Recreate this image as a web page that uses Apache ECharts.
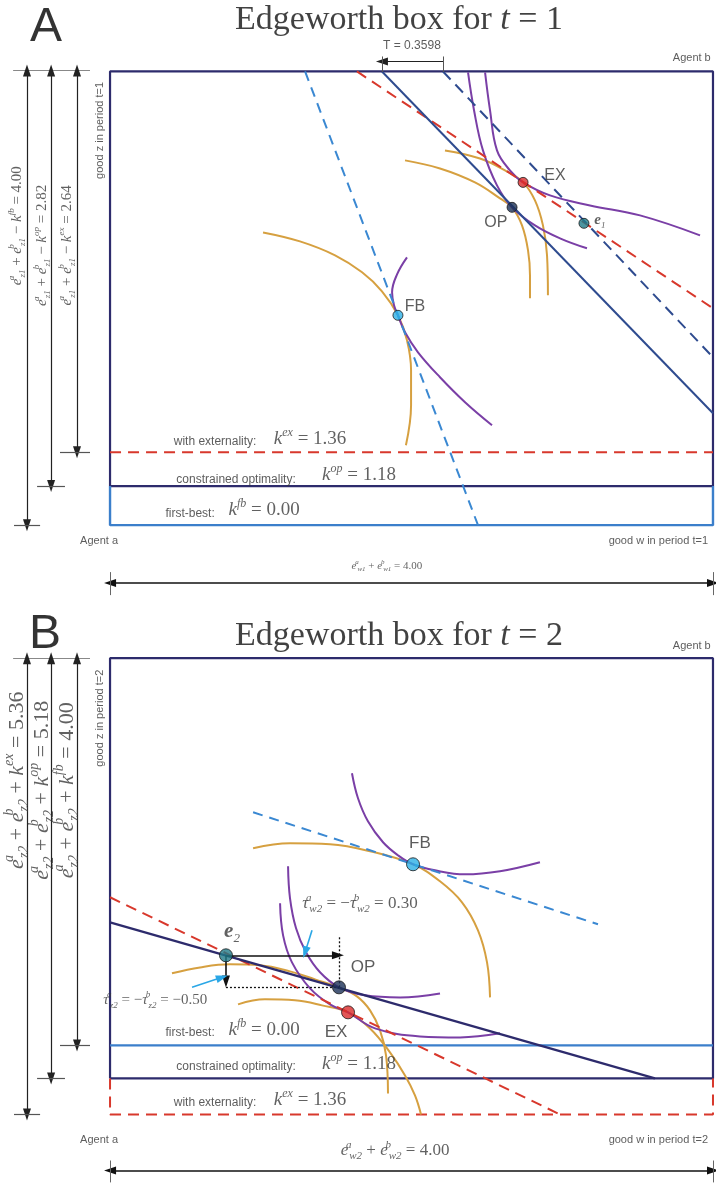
<!DOCTYPE html>
<html><head><meta charset="utf-8">
<script src="https://cdn.jsdelivr.net/npm/echarts@6/dist/echarts.min.js"></script>
<style>html,body{margin:0;padding:0;background:#fff}#c{width:716px;height:1184px}</style>
</head><body><div id="c"></div>
<script>
// ===================== DATA (w = good w, z = good z) =====================
// ---- Panel A (t = 1) ----
const aWmax = 4, aZtop = 4;
const aKop = 0.344, aKex = 0.643;            // heights of k^op / k^ex lines
const aBudgetOP = [[1.804, 4], [4, 0.987]];   // solid budget line through OP
const aBudgetE1 = [[2.209, 4], [4, 1.480]];   // dashed parallel through e1
const aBudgetEX = [[1.638, 4], [4, 1.912]];   // red dashed through EX
const aPriceFB  = [[1.294, 4], [2.441, 0]];   // blue dashed through FB
const aPtFB = [1.910, 1.850], aPtOP = [2.667, 2.802], aPtEX = [2.740, 3.022], aPtE1 = [3.144, 2.661];
const aOrangeFB = [[1.015,2.581],[1.260,2.502],[1.493,2.379],[1.672,2.229],[1.804,2.062],[1.910,1.850],[1.970,1.630],[1.997,1.366],[1.997,1.057],[1.963,0.705]];
const aPurpleFB = [[1.970,2.361],[1.904,2.211],[1.871,2.053],[1.884,1.938],[1.910,1.850],[1.957,1.700],[2.043,1.524],[2.189,1.304],[2.355,1.084],[2.534,0.881]];
const aOrangeOP = [[1.957,3.216],[2.189,3.145],[2.421,3.022],[2.587,2.881],[2.667,2.802],[2.733,2.643],[2.773,2.423],[2.786,2.203],[2.786,2.000]];
const aOrangeEX = [[2.222,3.304],[2.454,3.233],[2.620,3.128],[2.740,3.022],[2.819,2.863],[2.872,2.643],[2.899,2.379],[2.905,2.026]];
const aPurpleOP = [[2.375,3.991],[2.415,3.656],[2.474,3.304],[2.567,2.996],[2.667,2.802],[2.819,2.643],[2.985,2.529],[3.164,2.441]];
const aPurpleEX = [[2.488,3.991],[2.521,3.656],[2.567,3.304],[2.653,3.128],[2.740,3.022],[2.919,2.907],[3.184,2.819],[3.516,2.731],[3.914,2.555]];
const aTaxT = [1.804, 2.209];                 // T = 0.3598 bracket (w positions)

// ---- Panel B (t = 2) ----
const bWmax = 4, bZtop = 4;
const bKfb = 0.605, bKop = 0.316, bKex = 0;
const bBudgetOP = [[0, 1.684], [3.615, 0.316]];
const bBudgetEX = [[0, 1.904], [2.985, 0]];
const bPriceFB  = [[0.949, 2.649], [3.237, 1.667]];
const bPtFB = [2.010, 2.193], bPtOP = [1.519, 1.114], bPtEX = [1.579, 0.895], bPtE2 = [0.769, 1.395];
const bOrangeFB = [[0.949,2.333],[1.194,2.377],[1.459,2.368],[1.725,2.307],[2.010,2.193],[2.189,2.044],[2.335,1.860],[2.441,1.614],[2.501,1.333],[2.521,1.026]];
const bPurpleFB = [[1.605,2.991],[1.645,2.772],[1.711,2.570],[1.811,2.386],[1.910,2.272],[2.010,2.193],[2.156,2.140],[2.355,2.105],[2.587,2.132],[2.852,2.211]];
const bOrangeOP = [[0.411,1.237],[0.597,1.289],[0.796,1.316],[0.995,1.307],[1.194,1.254],[1.360,1.184],[1.519,1.114],[1.638,1.035],[1.725,0.912],[1.791,0.737],[1.831,0.518],[1.844,0.184]];
const bOrangeEX = [[0.849,0.965],[1.028,1.009],[1.227,1.000],[1.406,0.956],[1.579,0.895],[1.725,0.754],[1.857,0.544],[1.957,0.342],[2.023,0.167],[2.063,0]];
const bPurpleOP = [[1.181,2.175],[1.194,1.895],[1.234,1.632],[1.300,1.421],[1.393,1.246],[1.519,1.114],[1.692,1.044],[1.924,1.026],[2.189,1.061]];
const bPurpleEX = [[1.128,1.851],[1.148,1.570],[1.207,1.333],[1.327,1.105],[1.459,0.965],[1.579,0.895],[1.758,0.754],[2.056,0.684],[2.322,0.675],[2.587,0.711]];
const bTauW = [bPtE2, [1.512, 1.395]];        // transfer arrows
const bTauZ = [bPtE2, [0.769, 1.165]];

// ===================== STYLE =====================
const SERIF = 'Liberation Serif', SANS = 'Liberation Sans';
const NAVY = '#2d2b6c', BLUE = '#3b7fcb', RED = '#d8382c', BUDGET = '#2e4b8f';
const ORANGE = '#d6a040', PURPLE = '#7a3fa6', TXT = '#3a3a3a';

function poly(g, pts, color, width, type, smooth, z) {
  return {type:'line', xAxisIndex:g, yAxisIndex:g, data:pts, symbol:'none', smooth:smooth||false,
    clip:false, silent:true, z:z||2, lineStyle:{color:color, width:width, type:type||'solid'}};
}
function seg(p, q, color, width, endSym, startSym, type) {
  return [{coord:p, symbol:startSym||'none', symbolSize:[8,12], lineStyle:{color:color, width:width, type:type||'solid'}},
          {coord:q, symbol:endSym||'none', symbolSize:[8,12]}];
}
function mr(s, c) {
  c = c || TXT; const m = Math.round(s*0.62), lh = Math.round(s*1.3);
  return {
    i:{fontFamily:SERIF,fontStyle:'italic',fontSize:s,color:c,lineHeight:lh},
    n:{fontFamily:SERIF,fontSize:s,color:c,lineHeight:lh},
    b:{fontFamily:SERIF,fontStyle:'italic',fontWeight:'bold',fontSize:s,color:c,lineHeight:lh},
    p:{fontFamily:SERIF,fontStyle:'italic',fontSize:m,color:c,verticalAlign:'top',lineHeight:m},
    q:{fontFamily:SERIF,fontStyle:'italic',fontSize:m,color:c,verticalAlign:'top',lineHeight:m,width:1},
    d:{fontFamily:SERIF,fontStyle:'italic',fontSize:m,color:c,verticalAlign:'bottom',lineHeight:m}
  };
}
function T(w, z, fmt, opt) {
  return {value:[w, z], label:Object.assign({show:true, position:'inside', formatter:fmt, color:TXT}, opt||{})};
}
function sans(s, extra) { return Object.assign({fontFamily:SANS, fontSize:s, color:'#333'}, extra||{}); }

function pts(g, list) {
  return {type:'scatter', xAxisIndex:g, yAxisIndex:g, clip:false, silent:true, z:10,
    data: list.map(p => ({value:p[0], symbolSize:p[1], itemStyle:{color:p[2], borderColor:'#1a1a1a', borderWidth:1}}))};
}
function texts(g, items) {
  return {type:'scatter', xAxisIndex:g, yAxisIndex:g, clip:false, silent:true, z:12, symbolSize:1,
    itemStyle:{color:'rgba(0,0,0,0)'}, data:items};
}

// dimension arrows on the left / bottom
const xArr = [-0.551, -0.391, -0.219];

const series = [];
// ---------- Panel A ----------
series.push(Object.assign(poly(0, [[0,aKop],[0,aZtop],[aWmax,aZtop],[aWmax,aKop],[0,aKop]], NAVY, 2.2), {
  markLine:{silent:true, animation:false, label:{show:false}, symbol:'none', data:[
    seg([aTaxT[1], 4.088], [aTaxT[0], 4.088], '#222', 1.2, 'triangle'),
    seg([aTaxT[0], 4.132], [aTaxT[0], 3.995], '#555', 1),
    seg([aTaxT[1], 4.132], [aTaxT[1], 3.995], '#555', 1),
    seg([-0.643, 4.009], [-0.133, 4.009], '#888', 1.2),
    seg([xArr[0], 4.009], [xArr[0], 0], '#222', 1.2, 'triangle', 'triangle'),
    seg([xArr[1], 4.009], [xArr[1], aKop], '#222', 1.2, 'triangle', 'triangle'),
    seg([xArr[2], 4.009], [xArr[2], aKex], '#222', 1.2, 'triangle', 'triangle'),
    seg([-0.637, 0], [-0.464, 0], '#555', 1.2),
    seg([-0.484, aKop], [-0.299, aKop], '#555', 1.2),
    seg([-0.332, aKex], [-0.133, aKex], '#555', 1.2),
    seg([0, -0.511], [aWmax, -0.511], '#111', 1.6, 'triangle', 'triangle'),
    seg([0, -0.414], [0, -0.617], '#666', 1),
    seg([aWmax, -0.414], [aWmax, -0.617], '#666', 1)
  ]}
}));
series.push(poly(0, [[0,aKop],[0,0],[aWmax,0],[aWmax,aKop]], BLUE, 2.4));
series.push(poly(0, [[0,aKex],[aWmax,aKex]], RED, 2, [11,7]));
series.push(poly(0, aOrangeFB, ORANGE, 2, 'solid', 0.4, 3));
series.push(poly(0, aPurpleFB, PURPLE, 2, 'solid', 0.4, 3));
series.push(poly(0, aOrangeOP, ORANGE, 2, 'solid', 0.4, 3));
series.push(poly(0, aOrangeEX, ORANGE, 2, 'solid', 0.4, 3));
series.push(poly(0, aPurpleOP, PURPLE, 2, 'solid', 0.4, 3));
series.push(poly(0, aPurpleEX, PURPLE, 2, 'solid', 0.4, 3));
series.push(poly(0, aPriceFB, '#3a88d2', 2, [10,7], false, 4));
series.push(poly(0, aBudgetEX, RED, 2, [11,7], false, 4));
series.push(poly(0, aBudgetOP, BUDGET, 2, 'solid', false, 4));
series.push(poly(0, aBudgetE1, BUDGET, 2, [11,7], false, 4));
series.push(pts(0, [[aPtFB,10,'#2cb0e6'],[aPtOP,10,'#1c3158'],[aPtEX,10,'#d92a2a'],[aPtE1,10,'#1f7a88']]));
series.push(texts(0, [
  T(2.003, 4.229, 'T = 0.3598', sans(12)),
  T(3.985, 4.115, 'Agent b', sans(11, {align:'right'})),
  T(-0.073, -0.141, 'Agent a', sans(11)),
  T(3.967, -0.141, 'good w in period t=1', sans(11, {align:'right'})),
  T(-0.066, 3.48, 'good z in period t=1', sans(11, {rotate:90})),
  T(0.697, 0.740, 'with externality:', sans(12)),
  T(1.327, 0.758, '{i|k}{p|ex}{n| = 1.36}', {rich:mr(19)}),
  T(0.836, 0.405, 'constrained optimality:', sans(12)),
  T(1.652, 0.441, '{i|k}{p|op}{n| = 1.18}', {rich:mr(19)}),
  T(0.531, 0.097, 'first-best:', sans(12)),
  T(1.022, 0.132, '{i|k}{p|fb}{n| = 0.00}', {rich:mr(19)}),
  T(2.023, 1.930, 'FB', sans(16)),
  T(2.560, 2.670, 'OP', sans(16)),
  T(2.952, 3.084, 'EX', sans(16)),
  T(3.250, 2.690, '{b|e}{d|1}', {rich:mr(15)}),
  T(1.837, -0.361, '{i|e}{q|a}{d|w1}{n| + }{i|e}{q|b}{d|w1}{n| = 4.00}', {rich:mr(11)}),
  T(-0.617, 2.640, '{i|e}{q|a}{d|z1}{n| + }{i|e}{q|b}{d|z1}{n| − }{i|k}{p|fb}{n| = 4.00}', {rich:mr(15), rotate:90}),
  T(-0.451, 2.467, '{i|e}{q|a}{d|z1}{n| + }{i|e}{q|b}{d|z1}{n| − }{i|k}{p|op}{n| = 2.82}', {rich:mr(15), rotate:90}),
  T(-0.285, 2.467, '{i|e}{q|a}{d|z1}{n| + }{i|e}{q|b}{d|z1}{n| − }{i|k}{p|ex}{n| = 2.64}', {rich:mr(15), rotate:90}),
  T(-0.425, 4.388, 'A', {fontFamily:SANS, fontSize:48, color:'#000'}),
  T(1.917, 4.449, '{n|Edgeworth box for }{i|t}{n| = 1}', {rich:mr(34, '#111')})
]));

// ---------- Panel B ----------
series.push(Object.assign(poly(1, [[0,bKop],[0,bZtop],[bWmax,bZtop],[bWmax,bKop],[0,bKop]], NAVY, 2.2), {
  markLine:{silent:true, animation:false, label:{show:false}, symbol:'none', data:[
    seg([-0.643, 4.0], [-0.133, 4.0], '#888', 1.2),
    seg([xArr[0], 4.0], [xArr[0], bKex], '#222', 1.2, 'triangle', 'triangle'),
    seg([xArr[1], 4.0], [xArr[1], bKop], '#222', 1.2, 'triangle', 'triangle'),
    seg([xArr[2], 4.0], [xArr[2], bKfb], '#222', 1.2, 'triangle', 'triangle'),
    seg([-0.637, bKex], [-0.464, bKex], '#555', 1.2),
    seg([-0.484, bKop], [-0.299, bKop], '#555', 1.2),
    seg([-0.332, bKfb], [-0.133, bKfb], '#555', 1.2),
    seg([0, -0.491], [bWmax, -0.491], '#111', 1.6, 'triangle', 'triangle'),
    seg([0, -0.404], [0, -0.596], '#666', 1),
    seg([bWmax, -0.404], [bWmax, -0.596], '#666', 1),
    seg(bTauW[0], bTauW[1], '#111', 1.6, 'triangle'),
    seg(bTauZ[0], bTauZ[1], '#111', 1.6, 'triangle'),
    seg([bPtOP[0], 1.553], bPtOP, '#111', 1.3, 'none', 'none', [2,2]),
    seg([bPtE2[0], bPtOP[1]], bPtOP, '#111', 1.3, 'none', 'none', [2,2]),
    seg([1.340, 1.614], [1.294, 1.421], '#2aa7e6', 1.6, 'triangle'),
    seg([0.544, 1.114], [0.743, 1.202], '#2aa7e6', 1.6, 'triangle')
  ]}
}));
series.push(poly(1, [[0,bKfb],[bWmax,bKfb]], BLUE, 2.4));
series.push(poly(1, [[0,bKop],[0,bKex],[bWmax,bKex],[bWmax,bKop]], RED, 2, [11,7]));
series.push(poly(1, bOrangeFB, ORANGE, 2, 'solid', 0.4, 3));
series.push(poly(1, bPurpleFB, PURPLE, 2, 'solid', 0.4, 3));
series.push(poly(1, bOrangeOP, ORANGE, 2, 'solid', 0.4, 3));
series.push(poly(1, bOrangeEX, ORANGE, 2, 'solid', 0.4, 3));
series.push(poly(1, bPurpleOP, PURPLE, 2, 'solid', 0.4, 3));
series.push(poly(1, bPurpleEX, PURPLE, 2, 'solid', 0.4, 3));
series.push(poly(1, bPriceFB, '#3a88d2', 2, [10,7], false, 4));
series.push(poly(1, bBudgetEX, RED, 2, [11,7], false, 4));
series.push(poly(1, bBudgetOP, NAVY, 2.2, 'solid', false, 4));
series.push(pts(1, [[bPtFB,13,'#2cb0e6'],[bPtOP,13,'#1c3158'],[bPtEX,13,'#d92a2a'],[bPtE2,13,'#1f7a88']]));
series.push(texts(1, [
  T(3.985, 4.105, 'Agent b', sans(11, {align:'right'})),
  T(-0.073, -0.228, 'Agent a', sans(11)),
  T(3.967, -0.228, 'good w in period t=2', sans(11, {align:'right'})),
  T(-0.066, 3.474, 'good z in period t=2', sans(11, {rotate:90})),
  T(0.531, 0.719, 'first-best:', sans(12)),
  T(1.022, 0.737, '{i|k}{p|fb}{n| = 0.00}', {rich:mr(19)}),
  T(0.836, 0.421, 'constrained optimality:', sans(12)),
  T(1.652, 0.439, '{i|k}{p|op}{n| = 1.18}', {rich:mr(19)}),
  T(0.697, 0.105, 'with externality:', sans(12)),
  T(1.327, 0.123, '{i|k}{p|ex}{n| = 1.36}', {rich:mr(19)}),
  T(2.056, 2.377, 'FB', sans(17)),
  T(1.678, 1.289, 'OP', sans(17)),
  T(1.499, 0.719, 'EX', sans(17)),
  T(0.809, 1.600, '{b|e}{d|2}', {rich:mr(21)}),
  T(1.658, 1.851, '{i|τ}{q|a}{d|w2}{n| = −}{i|τ}{q|b}{d|w2}{n| = 0.30}', {rich:mr(17)}),
  T(0.30, 1.000, '{i|τ}{q|a}{d|z2}{n| = −}{i|τ}{q|b}{d|z2}{n| = −0.50}', {rich:mr(15)}),
  T(1.891, -0.316, '{i|e}{q|a}{d|w2}{n| + }{i|e}{q|b}{d|w2}{n| = 4.00}', {rich:mr(17)}),
  T(-0.617, 2.930, '{i|e}{q|a}{d|z2}{n| + }{i|e}{q|b}{d|z2}{n| + }{i|k}{p|ex}{n| = 5.36}', {rich:mr(22), rotate:90}),
  T(-0.451, 2.842, '{i|e}{q|a}{d|z2}{n| + }{i|e}{q|b}{d|z2}{n| + }{i|k}{p|op}{n| = 5.18}', {rich:mr(22), rotate:90}),
  T(-0.285, 2.842, '{i|e}{q|a}{d|z2}{n| + }{i|e}{q|b}{d|z2}{n| + }{i|k}{p|fb}{n| = 4.00}', {rich:mr(22), rotate:90}),
  T(-0.431, 4.202, 'B', {fontFamily:SANS, fontSize:48, color:'#000'}),
  T(1.917, 4.193, '{n|Edgeworth box for }{i|t}{n| = 2}', {rich:mr(34, '#111')})
]));

const chart = echarts.init(document.getElementById('c'), null, {renderer:'canvas'});
chart.setOption({
  animation:false,
  backgroundColor:'#ffffff',
  grid:[{left:0, top:0, width:716, height:600}, {left:0, top:600, width:716, height:584}],
  xAxis:[{gridIndex:0, type:'value', min:-0.73, max:4.02, show:false},
         {gridIndex:1, type:'value', min:-0.73, max:4.02, show:false}],
  yAxis:[{gridIndex:0, type:'value', min:-0.66, max:4.63, show:false},
         {gridIndex:1, type:'value', min:-0.61, max:4.51, show:false}],
  series:series
});
</script></body></html>
